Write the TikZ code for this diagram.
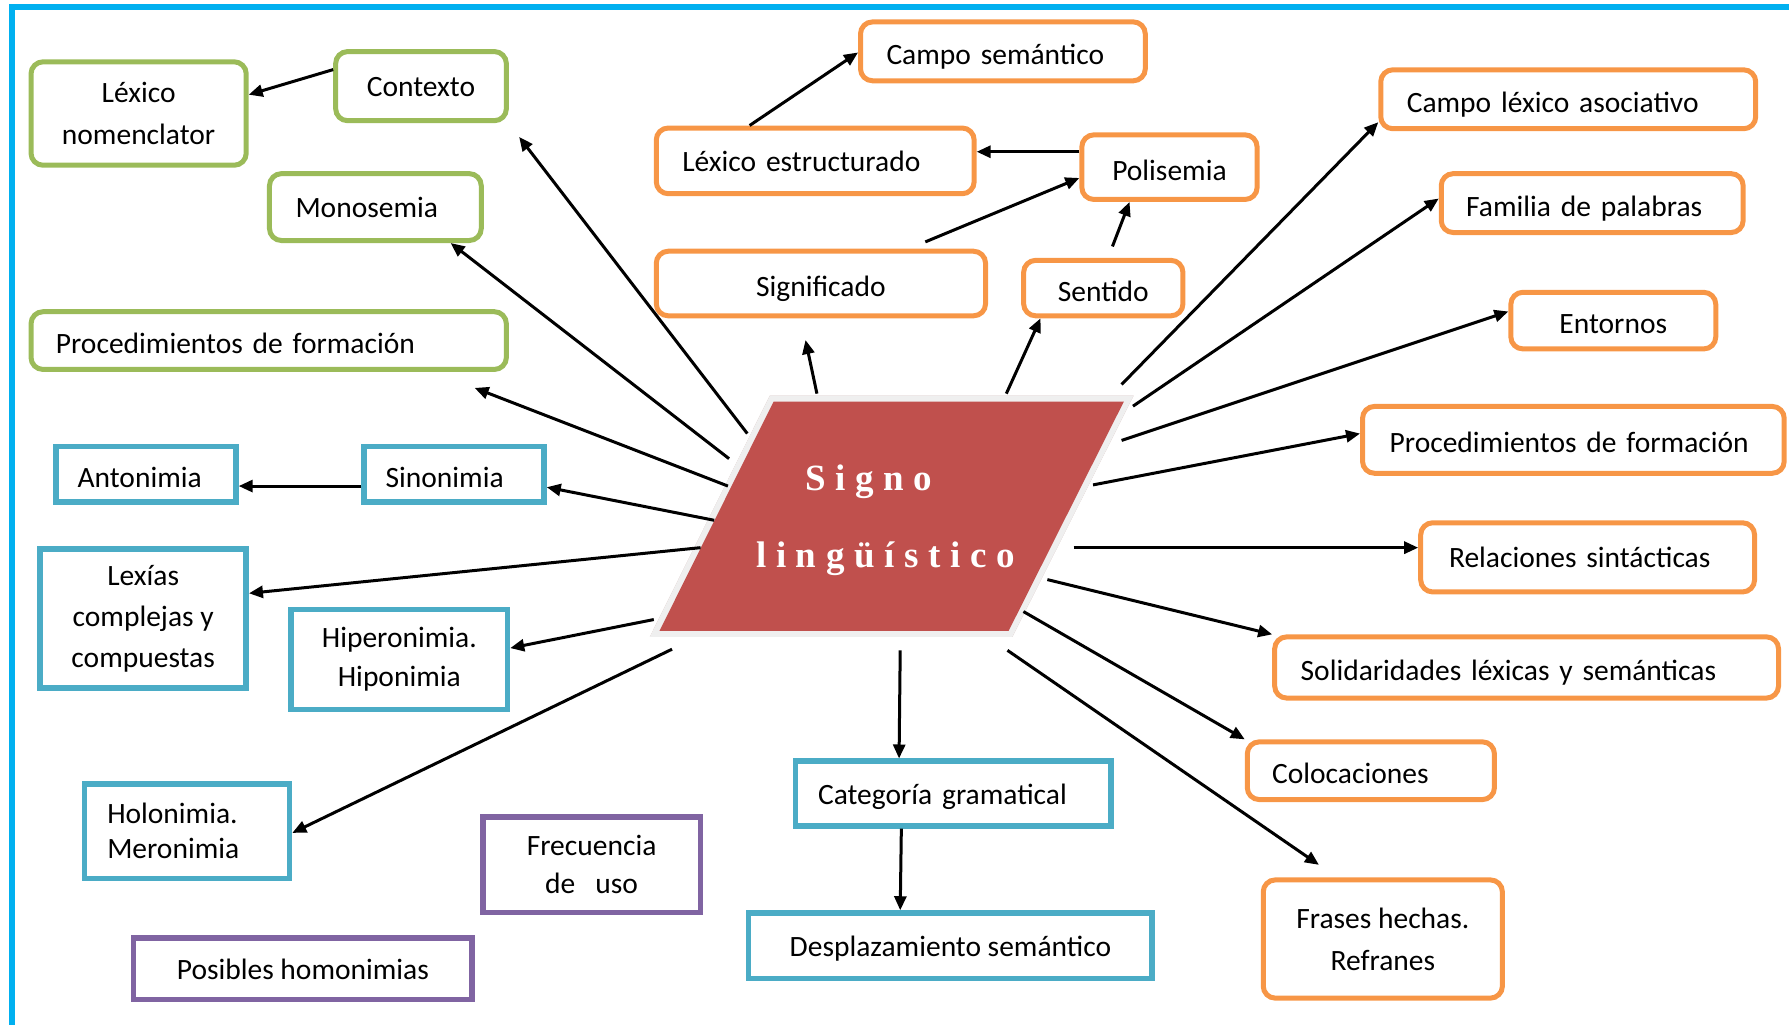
\documentclass[tikz,border=0pt]{standalone}
\usepackage{fontspec}
\setmainfont{Carlito}
\newfontfamily\signofont{Liberation Serif}[LetterSpace=26]
\usetikzlibrary{arrows.meta,fit}

\definecolor{cgreen}{HTML}{9BBB59}
\definecolor{corange}{HTML}{F79646}
\definecolor{cblue}{HTML}{4BACC6}
\definecolor{cpurple}{HTML}{8064A2}
\definecolor{cred}{HTML}{C0504D}
\definecolor{cframe}{HTML}{00B0F0}
\definecolor{cband}{HTML}{EFEFEF}
\definecolor{cshadow}{HTML}{BE9896}

\newcommand\boxfont[1]{\fontsize{29.5pt}{#1pt}\selectfont}

\tikzset{
  boxbase/.style={font=\boxfont{42}, text=black, inner sep=0pt, line width=5pt,
    text height=28pt, text depth=2pt},
  hi/.style={text height=24pt, text depth=3pt},
  multi/.style={text height={}, text depth={}, align=center},
  gbox/.style={boxbase, draw=cgreen, rounded corners=12pt},
  obox/.style={boxbase, draw=corange, rounded corners=12pt},
  bbox/.style={boxbase, draw=cblue, line width=5.5pt},
  pbox/.style={boxbase, draw=cpurple, line width=5.5pt},
  % box given by its outer corners (x1,y1) (x2,y2)
  boxat/.style n args={4}{at={({(#1+#3)/2},{(#2+#4)/2})},
    minimum width={(#3-#1)*1.141pt-5pt}, minimum height={(#4-#2)*1.141pt-5pt}},
  % same, with the text set flush left at a given inset
  lbox/.style n args={5}{boxat={#1}{#2}{#3}{#4},
    text width={(#3-#1-2*#5)*1.141pt}, align=left},
  arr/.style={line width=3pt, -{Triangle[length=14pt,width=12pt]}},
  signotxt/.style={font=\signofont\bfseries\fontsize{37pt}{44pt}\selectfont, text=white, inner sep=0pt},
}

\begin{document}
\begin{tikzpicture}[x=1.141pt, y=-1.141pt]
\useasboundingbox (0,0) rectangle (1568,898);

% page frame
\draw[cframe, line width=6pt, line join=miter] (10.5,905) -- (10.5,6) -- (1575,6);

% central parallelogram
\coordinate (p1) at (678,352);
\coordinate (p2) at (985,352);
\coordinate (p3) at (884,553);
\coordinate (p4) at (578,553);
\begin{scope}[shift={(4,4)}]
  \filldraw[fill=cshadow, draw=cshadow, line width=12pt, line join=miter, opacity=.75]
    (p1) -- (p2) -- (p3) -- (p4) -- cycle;
\end{scope}
\filldraw[fill=cband, draw=cband, line width=12pt, line join=miter]
  (p1) -- (p2) -- (p3) -- (p4) -- cycle;
\fill[cred] (p1) -- (p2) -- (p3) -- (p4) -- cycle;
\node[inner sep=0pt, fit=(p1)(p2)(p3)(p4)] (signo) {};
\node[signotxt, anchor=base west] (signo1) at (705.5,430) {Signo};
\node[signotxt, anchor=base west] (signo2) at (662.6,497) {lingüístico};

% green boxes
\node[gbox, multi, boxat={25}{52}{218}{147}] (lexnom) {Léxico\\nomenclator};
\node[gbox, hi, boxat={292}{43}{446}{108}] (contexto) {Contexto};
\node[gbox, hi, lbox={234}{150}{424}{213}{25}] (monosemia) {Monosemia};
\node[gbox, lbox={25}{271}{446}{326}{24}] (procg) {Procedimientos de formación};

% orange boxes
\node[obox, lbox={752}{17}{1006}{73}{25}] (camposem) {Campo semántico};
\node[obox, hi, lbox={573}{110}{856}{172}{25}] (lexest) {Léxico estructurado};
\node[obox, boxat={946}{116}{1104}{177}] (polisemia) {Polisemia};
\node[obox, boxat={573}{218}{866}{279}] (significado) {Significado};
\node[obox, boxat={895}{226}{1039}{279}] (sentido) {Sentido};
\node[obox, lbox={1208}{59}{1541}{115}{25}] (campolex) {Campo léxico asociativo};
\node[obox, lbox={1261}{150}{1530}{206}{24}] (familia) {Familia de palabras};
\node[obox, boxat={1322}{254}{1506}{308}] (entornos) {Entornos};
\node[obox, lbox={1192}{354}{1566}{417}{26}] (proco) {Procedimientos de formación};
\node[obox, hi, lbox={1243}{456}{1540}{521}{27}] (relaciones) {Relaciones sintácticas};
\node[obox, lbox={1115}{556}{1561}{614}{25}] (solidaridades) {Solidaridades léxicas y semánticas};
\node[obox, lbox={1091}{648}{1312}{703}{24}] (colocaciones) {Colocaciones};
\node[obox, multi, boxat={1105}{769}{1319}{877}] (frases) {Frases hechas.\\Refranes};

% blue boxes
\node[bbox, lbox={47}{389}{209}{442}{21}] (antonimia) {Antonimia};
\node[bbox, lbox={317}{389}{479}{442}{21}] (sinonimia) {Sinonimia};
\node[bbox, multi, boxat={33}{479}{218}{605}, font=\boxfont{41}] (lexias) {Lexías\\complejas y\\compuestas};
\node[bbox, multi, boxat={253}{532}{447}{624}, font=\boxfont{39}] (hiper) {Hiperonimia.\\Hiponimia};
\node[bbox, multi, lbox={72}{685}{256}{772}{22}, font=\boxfont{35}] (holo) {Holonimia.\\Meronimia};
\node[bbox, hi, lbox={695}{665}{976}{726}{22}] (categoria) {Categoría gramatical};
\node[bbox, hi, boxat={654}{798}{1012}{860}] (desplaz) {Desplazamiento semántico};

% purple boxes
\node[pbox, multi, boxat={421}{714}{616}{802}, font=\boxfont{38}] (frecuencia) {Frecuencia\\de~~~uso};
\node[pbox, hi, boxat={115}{820}{416}{878}] (posibles) {Posibles homonimias};

% connector ends around the central shape
\coordinate (o-ctx) at (655,380);  \coordinate (e-ctx) at (455,120);
\coordinate (o-mono) at (639,402);
\coordinate (o-procg) at (638,426); \coordinate (e-procg) at (416,340);
\coordinate (o-sino) at (626,456);
\coordinate (o-lex) at (614,480);
\coordinate (o-hiper) at (573,543);
\coordinate (o-holo) at (589,569);
\coordinate (o-sig) at (716,345);  \coordinate (e-sig) at (706,298);
\coordinate (o-sent) at (882,345);
\coordinate (o-clex) at (983,337);
\coordinate (o-fam) at (993,356);
\coordinate (o-ent) at (983,386);
\coordinate (o-proco) at (958,425);
\coordinate (o-rel) at (941,480);
\coordinate (o-sol) at (918,508);
\coordinate (o-col) at (897,536);
\coordinate (o-fra) at (883,570); \coordinate (e-fra) at (1156,758);
\coordinate (o-cat) at (789,570);
\coordinate (o-sig2) at (811,212);
\coordinate (o-sent2) at (975,216);

% connectors from the central shape
\draw[arr] (o-ctx) -- (e-ctx);
\draw[arr] (o-mono) -- (395,0 |- monosemia.south);
\draw[arr] (o-procg) -- (e-procg);
\draw[arr] (o-sino) -- (sinonimia.east |- 0,427);
\draw[arr] (o-lex) -- (lexias.east |- 0,520);
\draw[arr] (o-hiper) -- (hiper.east |- 0,568);
\draw[arr] (o-holo) -- (holo.east |- 0,730);
\draw[arr] (o-sig) -- (e-sig);
\draw[arr] (o-sent) -- (912,0 |- sentido.south);
\draw[arr] (o-clex) -- ([yshift=9pt]campolex.south west);
\draw[arr] (o-fam) -- (familia.west |- 0,174);
\draw[arr] (o-ent) -- (entornos.west |- 0,273);
\draw[arr] (o-proco) -- (proco.west |- 0,380);
\draw[arr] (o-rel) -- (relaciones.west |- 0,480);
\draw[arr] (o-sol) -- (solidaridades.north west);
\draw[arr] (o-col) -- (colocaciones.north west);
\draw[arr] (o-fra) -- (e-fra);
\draw[arr] (o-cat) -- (788,0 |- categoria.north);

% connectors between boxes
\draw[arr] (contexto.west |- 0,61) -- (lexnom.east |- 0,83);
\draw[arr] (sinonimia.west |- 0,426) -- (antonimia.east |- 0,426);
\draw[arr] (o-sig2) -- (polisemia.west |- 0,156);
\draw[arr] (o-sent2) -- (990,0 |- polisemia.south);
\draw[arr] (polisemia.west |- 0,133) -- (lexest.east |- 0,133);
\draw[arr] (657,0 |- lexest.north) -- (camposem.west |- 0,46);
\draw[arr] (790,0 |- categoria.south) -- (789,0 |- desplaz.north);
\end{tikzpicture}
\end{document}
